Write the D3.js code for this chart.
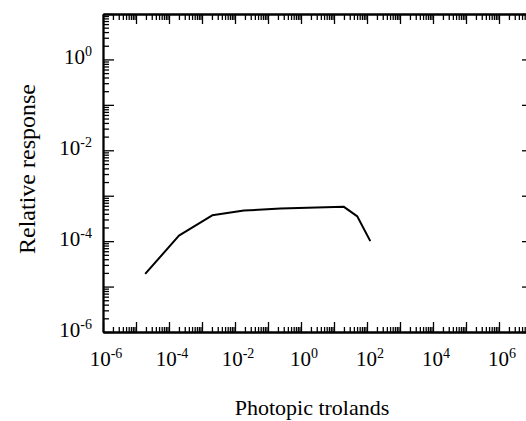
<html>
<head>
<script src="https://d3js.org/d3.v7.min.js"></script>
<style>
  body { margin: 0; background: #fff; }
  text { font-family: "Liberation Serif", "Times New Roman", serif; fill: #000; }
</style>
</head>
<body>
<script>
// values
var trolands = [1.9e-5, 2.0e-4, 2.04e-3, 1.86e-2, 0.24, 19.5, 51, 126];
var response = [1.9e-5, 1.32e-4, 3.7e-4, 4.7e-4, 5.2e-4, 5.75e-4, 3.5e-4, 1.0e-4];
var xLabelExp = [-6, -4, -2, 0, 2, 4, 6];
var yLabelExp = [-6, -4, -2, 0];

var width = 526, height = 421;
var plot = {left: 103, right: 532, top: 14, bottom: 332};

var svg = d3.select("body").append("svg")
    .attr("width", width)
    .attr("height", height);

var x = d3.scaleLog().domain([1e-6, 1e7]).range([plot.left, plot.right]);
var y = d3.scaleLog().domain([1e-6, 1e1]).range([plot.bottom, plot.top]);

function decades(lo, hi) {
    var v = [];
    for (var e = lo; e <= hi; e++) v.push(Math.pow(10, e));
    return v;
}
function minors(lo, hi) {
    var v = [];
    for (var e = lo; e < hi; e++)
        for (var m = 2; m <= 9; m++) v.push(m * Math.pow(10, e));
    return v;
}

var xMaj = decades(-6, 7), xMin = minors(-6, 7);
var yMaj = decades(-6, 1), yMin = minors(-6, 1);

function styleAxis(g) {
    g.selectAll("text").remove();
    g.select(".domain").attr("stroke", "#000").attr("stroke-width", 1.8);
    g.selectAll(".tick line").attr("stroke", "#000").attr("stroke-width", 1.3);
}

// bottom
svg.append("g").attr("transform", `translate(0,${plot.bottom})`)
    .call(d3.axisBottom(x).tickValues(xMaj).tickSize(-10).tickSizeOuter(0)).call(styleAxis);
svg.append("g").attr("transform", `translate(0,${plot.bottom})`)
    .call(d3.axisBottom(x).tickValues(xMin).tickSize(-5).tickSizeOuter(0)).call(styleAxis);
// top
svg.append("g").attr("transform", `translate(0,${plot.top})`)
    .call(d3.axisTop(x).tickValues(xMaj).tickSize(-10).tickSizeOuter(0)).call(styleAxis);
svg.append("g").attr("transform", `translate(0,${plot.top})`)
    .call(d3.axisTop(x).tickValues(xMin).tickSize(-6).tickSizeOuter(0)).call(styleAxis);
// left
svg.append("g").attr("transform", `translate(${plot.left},0)`)
    .call(d3.axisLeft(y).tickValues(yMaj).tickSize(-11).tickSizeOuter(0)).call(styleAxis);
svg.append("g").attr("transform", `translate(${plot.left},0)`)
    .call(d3.axisLeft(y).tickValues(yMin).tickSize(-6).tickSizeOuter(0)).call(styleAxis);
// right
svg.append("g").attr("transform", `translate(${plot.right},0)`)
    .call(d3.axisRight(y).tickValues(yMaj).tickSize(-10).tickSizeOuter(0)).call(styleAxis);
svg.append("g").attr("transform", `translate(${plot.right},0)`)
    .call(d3.axisRight(y).tickValues(yMin).tickSize(-5).tickSizeOuter(0)).call(styleAxis);

// tick labels as 10 with superscript
function powLabel(sel, e) {
    sel.append("tspan").text("10");
    sel.append("tspan").attr("dy", -8).attr("font-size", 14).text(String(e));
}

svg.append("g").selectAll("text").data(xLabelExp).enter()
    .append("text")
    .attr("x", d => x(Math.pow(10, d)) + 3)
    .attr("y", 366)
    .attr("text-anchor", "middle")
    .attr("font-size", 21)
    .each(function(d) { powLabel(d3.select(this), d); });

svg.append("g").selectAll("text").data(yLabelExp).enter()
    .append("text")
    .attr("x", plot.left - 11)
    .attr("y", d => y(Math.pow(10, d)) + 5)
    .attr("text-anchor", "end")
    .attr("font-size", 21)
    .each(function(d) { powLabel(d3.select(this), d); });

// axis titles
svg.append("text")
    .attr("x", 312).attr("y", 415)
    .attr("text-anchor", "middle")
    .attr("font-size", 22)
    .text("Photopic trolands");

svg.append("text")
    .attr("transform", "translate(35,169) rotate(-90)")
    .attr("text-anchor", "middle")
    .attr("font-size", 24)
    .text("Relative response");

// curve
var pts = trolands.map((t, i) => [t, response[i]]);
svg.append("path")
    .datum(pts)
    .attr("fill", "none")
    .attr("stroke", "#000")
    .attr("stroke-width", 2)
    .attr("stroke-linejoin", "round")
    .attr("d", d3.line().x(d => x(d[0])).y(d => y(d[1])));
</script>
</body>
</html>
